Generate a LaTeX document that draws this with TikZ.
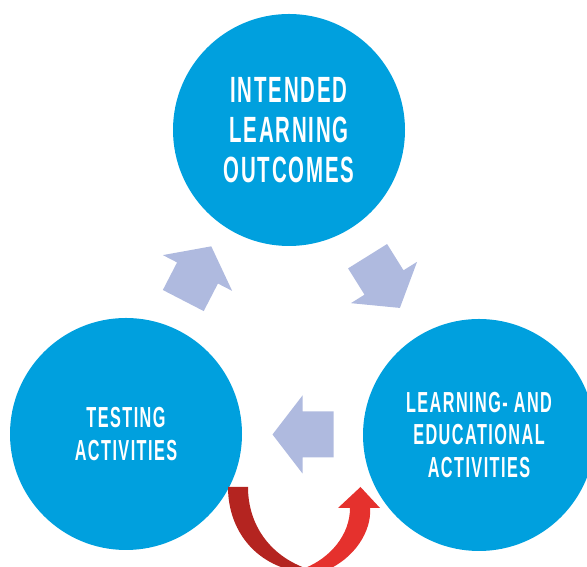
\documentclass[tikz,border=0pt]{standalone}
\usepackage{fontspec}
\setmainfont{Liberation Sans}
\newfontfamily\cyclefont[FakeStretch=0.56, LetterSpace=5]{Liberation Sans}
\usetikzlibrary{calc}

\definecolor{circleblue}{RGB}{0,160,222}
\definecolor{arrowgrey}{RGB}{175,186,223}
\definecolor{darkred}{RGB}{180,36,32}
\definecolor{brightred}{RGB}{229,49,45}

\tikzset{
	stage/.style={shape=circle, fill=circleblue, minimum size=232pt, inner sep=0pt, text=white, align=center},
	bigtext/.style={font=\cyclefont\bfseries\fontsize{36.5}{40}\selectfont},
	smalltext/.style={font=\cyclefont\bfseries\fontsize{29}{32.5}\selectfont},
	blockarrow/.pic={\fill[arrowgrey] (-31,-23) -- (0,-23) -- (0,-39) -- (30,0) -- (0,39) -- (0,23) -- (-31,23) -- cycle;}
}

\begin{document}
\begin{tikzpicture}[x=1pt, y=1pt]

	\useasboundingbox (0,0) rectangle (587,567);

	\node[stage, bigtext] (Outcomes) at (289,437) {INTENDED\\LEARNING\\OUTCOMES};
	\node[stage, smalltext] (Testing) at (126,133) {TESTING\\ACTIVITIES};
	\node[stage, smalltext] (Learning) at (479,132) {LEARNING- AND\\EDUCATIONAL\\ACTIVITIES};

	% grey arrows going round the cycle
	\pic[rotate=-58] at ($(Outcomes)!0.5!(Learning)$) {blockarrow};
	\pic[rotate=180] at ($(Learning)!0.5!(Testing)$) {blockarrow};
	\pic[rotate=62.7] at ($(Testing)!0.5!(Outcomes)+(-10,9)$) {blockarrow};

	% red loop under the two bottom circles
	\fill[darkred] (228,80) .. controls (228,37) and (255,2) .. (300,-5)
		-- (305,-1) .. controls (270,12) and (248,42) .. (248,80) -- cycle;
	\fill[brightred] (322,-5) .. controls (355,7) and (372,37) .. (370,59)
		-- (380,59) -- (360.5,80) -- (338,59) -- (350,59)
		.. controls (350,32) and (330,9) .. (305,-1) -- cycle;

\end{tikzpicture}
\end{document}
